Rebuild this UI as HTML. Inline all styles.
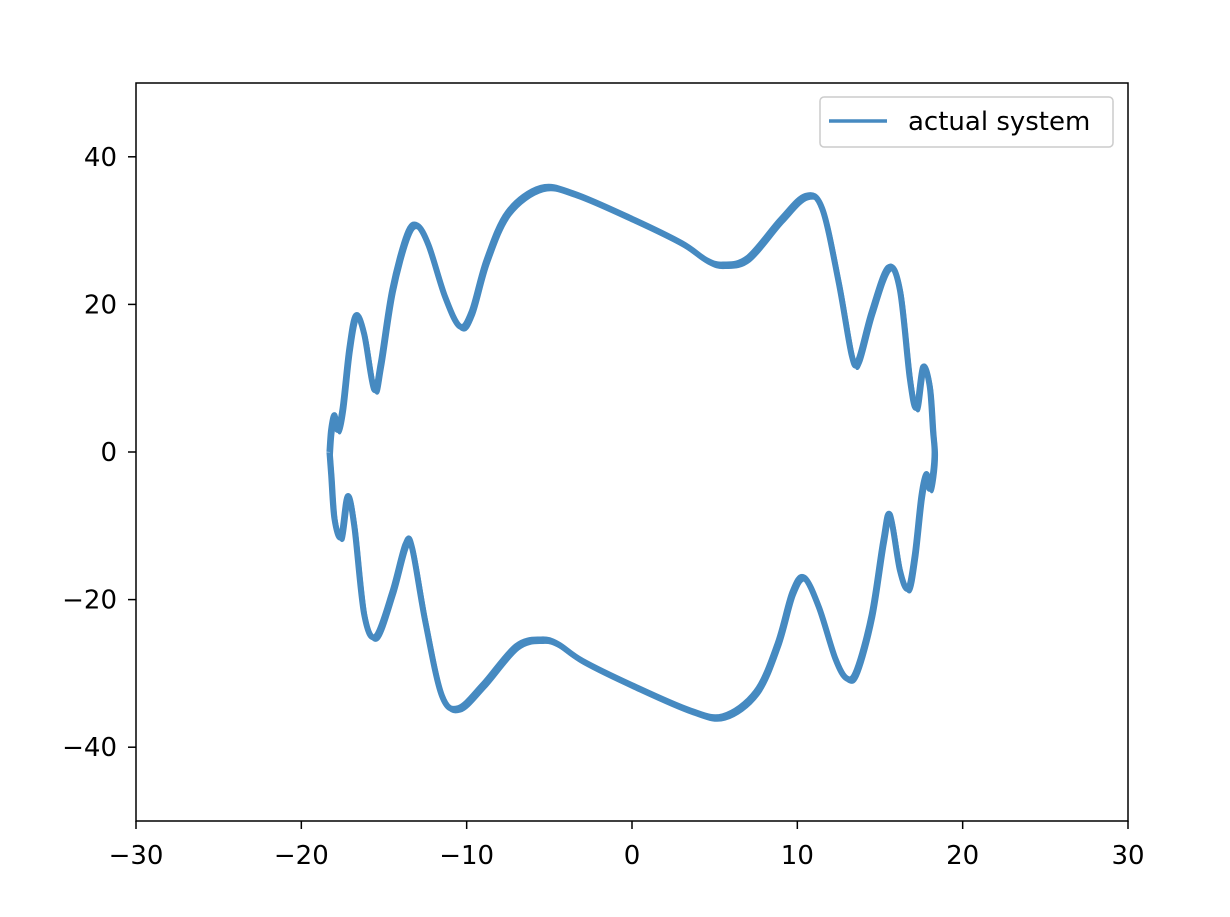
<!DOCTYPE html>
<html><head><meta charset="utf-8"><style>
html,body{margin:0;padding:0;background:#fff;}
svg text{font-family:"DejaVu Sans","Liberation Sans",sans-serif;font-size:26px;fill:#000;}
</style></head><body>
<svg id="chart" width="1230" height="912" viewBox="0 0 1230 912" xmlns="http://www.w3.org/2000/svg">
<rect width="1230" height="912" fill="#fff"/>
<g id="ticks"></g>
<path id="curve" fill="none" stroke="#468ac1" stroke-width="6" stroke-linejoin="round"/>
<path id="curve2" fill="none" stroke="#468ac1" stroke-width="3" stroke-linejoin="round"/>
<rect x="136" y="83" width="992" height="738" fill="none" stroke="#000" stroke-width="1.5"/>
<g>
<rect x="820" y="97" width="293" height="50" rx="4" fill="#fff" stroke="#ccc" stroke-width="1.5"/>
<line x1="829" y1="121" x2="887" y2="121" stroke="#468ac1" stroke-width="3.5"/>
<text x="908" y="130">actual system</text>
</g>
</svg>
<script>
const xTicks=[-30,-20,-10,0,10,20,30];
const yTicks=[-40,-20,0,20,40];
const xs=[-18.3,-18.2,-18.0,-17.8,-17.5,-17.1,-16.7,-16.2,-15.6,-15.2,-14.5,-13.6,-13.0,-12.3,-11.3,-10.4,-9.7,-8.8,-7.5,-5.5,-3.5,0,3,4.5,5.5,7,9,10.5,11.5,12.5,13.3,13.7,14.5,15.5,16.2,16.8,17.2,17.6,18.0,18.2,18.3,
18.2,18.0,17.8,17.5,17.1,16.7,16.2,15.6,15.2,14.5,13.6,13.0,12.3,11.3,10.4,9.7,8.8,7.5,5.5,3.5,0,-3,-4.5,-5.5,-7,-9,-10.5,-11.5,-12.5,-13.3,-13.7,-14.5,-15.5,-16.2,-16.8,-17.2,-17.6,-18.0,-18.2,-18.3];
const ys=[0,3,5,3,6,14,18.5,16,8.5,12,22,29.5,30.7,28,21,17,19,26,32.5,35.8,35,31.6,28.3,26,25.4,26.3,31.5,34.7,33,23,13,12.5,19,25,22,10,6,11.5,9,3,0,
-3,-5,-3,-6,-14,-18.5,-16,-8.5,-12,-22,-29.5,-30.7,-28,-21,-17,-19,-26,-32.5,-35.8,-35,-31.6,-28.3,-26,-25.4,-26.3,-31.5,-34.7,-33,-23,-13,-12.5,-19,-25,-22,-10,-6,-11.5,-9,-3,0];
const sx=v=>136+(v+30)*992/60;
const sy=v=>452-v*7.38;
const NS="http://www.w3.org/2000/svg";
const g=document.getElementById('ticks');
function add(tag,attrs,txt){const e=document.createElementNS(NS,tag);for(const k in attrs)e.setAttribute(k,attrs[k]);if(txt!==undefined)e.textContent=txt;g.appendChild(e);return e;}
const fmt=v=>v<0?'\u2212'+(-v):String(v);
xTicks.forEach(v=>{
 const l=add('line',{x1:sx(v),x2:sx(v),y1:821,y2:829,stroke:'#000','stroke-width':1.5});
 
 
 const t=add('text',{x:sx(v),y:864,'text-anchor':'middle'},fmt(v));
 
 
});
yTicks.forEach(v=>{
 const l=add('line',{x1:128,x2:136,y1:sy(v),y2:sy(v),stroke:'#000','stroke-width':1.5});
 
 
 const t=add('text',{x:117,y:sy(v)+9,'text-anchor':'end'},fmt(v));
 
 
});
function path(dx,dy){
 const P=xs.map((x,i)=>[sx(x)+dx,sy(ys[i])+dy]);
 let d='M'+P[0][0]+','+P[0][1];
 for(let i=0;i<P.length-1;i++){
  const p0=P[Math.max(i-1,0)],p1=P[i],p2=P[i+1],p3=P[Math.min(i+2,P.length-1)];
  d+=' C'+(p1[0]+(p2[0]-p0[0])/6)+','+(p1[1]+(p2[1]-p0[1])/6)+' '+(p2[0]-(p3[0]-p1[0])/6)+','+(p2[1]-(p3[1]-p1[1])/6)+' '+p2[0]+','+p2[1];
 }
 return d;
}
document.getElementById('curve').setAttribute('d',path(0,0));
document.getElementById('curve2').setAttribute('d',path(2,3));
</script>
</body></html>
